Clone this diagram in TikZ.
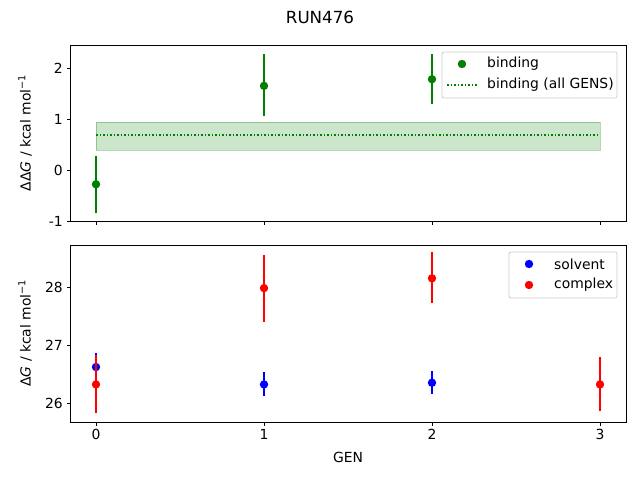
\documentclass[tikz,border=0pt]{standalone}
\usepackage{fontspec}
\setmainfont{DejaVu Sans}
\usetikzlibrary{positioning}
\definecolor{mplgreen}{HTML}{008000}
\definecolor{mplblue}{HTML}{0000FF}
\definecolor{mplred}{HTML}{FF0000}
\tikzset{%
  axis box/.style={draw, line width=0.8pt},
  tick mark/.style={line width=0.8pt},
  tick label/.style={font=\fontsize{13.9}{16}\selectfont, inner sep=1pt},
  err bar/.style={line width=1.5pt},
  data dot/.style={circle, fill, inner sep=0pt, minimum size=8.4pt},
  legend box/.style={draw=black!20, fill=white, fill opacity=0.8, text opacity=1, rounded corners=2pt, line width=0.8pt}
}
\begin{document}
\begin{tikzpicture}[x=1pt, y=-1pt]
\useasboundingbox (0,0) rectangle (640,480);
\node[font=\fontsize{16.7}{19}\selectfont] (title) at (320,17) {RUN476};
% top panel: binding
\fill[mplgreen, opacity=0.2] (96,122) rectangle (600,150);
\draw[mplgreen, opacity=0.3] (96,122) rectangle (600,150);
\draw[mplgreen, dotted, line width=1.5pt] (96,135) -- (600,135);
\foreach \g/\v/\lo/\hi in {0/-0.28/-0.85/0.27, 1/1.65/1.05/2.28, 2/1.78/1.30/2.28}{
  \draw[err bar, mplgreen] (96+168*\g,170-51*\lo) -- (96+168*\g,170-51*\hi);
  \node[data dot, fill=mplgreen] at (96+168*\g,170-51*\v) {};
}
\draw[axis box] (70,45) rectangle (626,221);
\foreach \v in {-1,0,1,2}{
  \draw[tick mark] (70,170-51*\v) -- ++(-3.5,0);
  \node[tick label, anchor=east] at (64,170-51*\v) {\v};
}
\foreach \g in {0,1,2,3}
  \draw[tick mark] (96+168*\g,221) -- ++(0,3.5);
\node[tick label, rotate=90] (ylabtop) at (25,133) {Δ\kern0.5pt Δ\textit{G} / kcal mol\textsuperscript{−1}};
\draw[legend box] (442,52) rectangle (617,98);
\node[data dot, fill=mplgreen] (legbind) at (462,64) {};
\node[tick label, anchor=west] at (486,64) {binding};
\draw[mplgreen, dotted, line width=1.5pt] (447,85) -- (477,85);
\node[tick label, anchor=west] at (486,85) {binding (all GENS)};
% bottom panel: solvent and complex
\foreach \g/\v/\lo/\hi in {0/26.62/26.35/26.86, 1/26.32/26.12/26.53, 2/26.35/26.16/26.55}{
  \draw[err bar, mplblue] (96+168*\g,403-58*\lo+58*26) -- (96+168*\g,403-58*\hi+58*26);
  \node[data dot, fill=mplblue] at (96+168*\g,403-58*\v+58*26) {};
}
\foreach \g/\v/\lo/\hi in {0/26.32/25.83/26.83, 1/27.98/27.40/28.55, 2/28.15/27.72/28.60, 3/26.32/25.86/26.80}{
  \draw[err bar, mplred] (96+168*\g,403-58*\lo+58*26) -- (96+168*\g,403-58*\hi+58*26);
  \node[data dot, fill=mplred] at (96+168*\g,403-58*\v+58*26) {};
}
\draw[axis box] (70,245) rectangle (626,422);
\foreach \v in {26,27,28}{
  \draw[tick mark] (70,403-58*\v+58*26) -- ++(-3.5,0);
  \node[tick label, anchor=east] at (64,403-58*\v+58*26) {\v};
}
\foreach \g in {0,1,2,3}{
  \draw[tick mark] (96+168*\g,422) -- ++(0,3.5);
  \node[tick label, anchor=north] at (96+168*\g,428) {\g};
}
\node[tick label] (xlab) at (348,457) {GEN};
\node[tick label, rotate=90] (ylabbot) at (25,333) {Δ\textit{G} / kcal mol\textsuperscript{−1}};
\draw[legend box] (509,252) rectangle (617,298);
\node[data dot, fill=mplblue] (legsolv) at (529,264) {};
\node[tick label, anchor=west] at (553,264) {solvent};
\node[data dot, fill=mplred] (legcomp) at (529,285) {};
\node[tick label, anchor=west] at (553,285) {complex};
\end{tikzpicture}
\end{document}
